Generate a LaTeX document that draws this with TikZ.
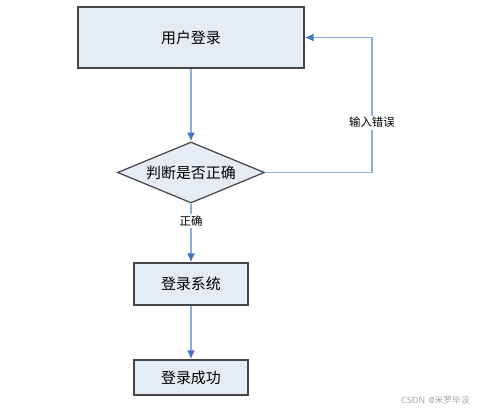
\documentclass[tikz,border=0pt]{standalone}
\usepackage{fontspec}
\newfontfamily\cjk{Noto Sans CJK SC}
\usetikzlibrary{shapes.geometric,arrows.meta}
\definecolor{boxfill}{RGB}{230,236,246}
\definecolor{boxline}{RGB}{70,70,70}
\definecolor{flowline}{RGB}{140,175,222}
\definecolor{flowtip}{RGB}{70,115,190}
\begin{document}
\begin{tikzpicture}[x=0.02cm,y=-0.02cm,
  stepbox/.style={draw=boxline,line width=0.9pt,fill=boxfill,font=\cjk\fontsize{8.5}{10}\selectfont},
  check/.style={diamond,aspect=2.4,inner sep=0pt,draw=boxline,line width=0.7pt,fill=boxfill,font=\cjk\fontsize{8.5}{10}\selectfont},
  flow/.style={draw=flowline,line width=0.8pt,-{Latex[length=5pt,width=4.5pt,color=flowtip]}},
  tag/.style={fill=white,inner sep=1pt,font=\cjk\fontsize{6.5}{8}\selectfont}]
\useasboundingbox (0,0) rectangle (478,412);
% boxes
\node[stepbox,minimum width=226*0.02cm,minimum height=61*0.02cm] (login) at (191,37.5) {用户登录};
\node[check,minimum width=147*0.02cm,minimum height=61*0.02cm] (judge) at (191,172.5) {判断是否正确};
\node[stepbox,minimum width=114*0.02cm,minimum height=42*0.02cm] (enter) at (191,284) {登录系统};
\node[stepbox,minimum width=114*0.02cm,minimum height=35*0.02cm] (done) at (191,377.5) {登录成功};
\coordinate (back) at (372,172.5);
% arrows
\draw[flow] (login) -- (judge);
\draw[flow] (judge) -- (enter) node[tag,pos=0.3] {正确};
\draw[flow] (enter) -- (done);
\draw[flow] (judge.east) -- (back) -- (back |- login.east) node[tag,pos=0.37] {输入错误} -- (login.east);
\node[font=\sffamily\fontsize{5}{6}\selectfont,text=black!35,anchor=east] (mark) at (476,400) {CSDN @\cjk 米罗毕设};
\end{tikzpicture}
\end{document}
